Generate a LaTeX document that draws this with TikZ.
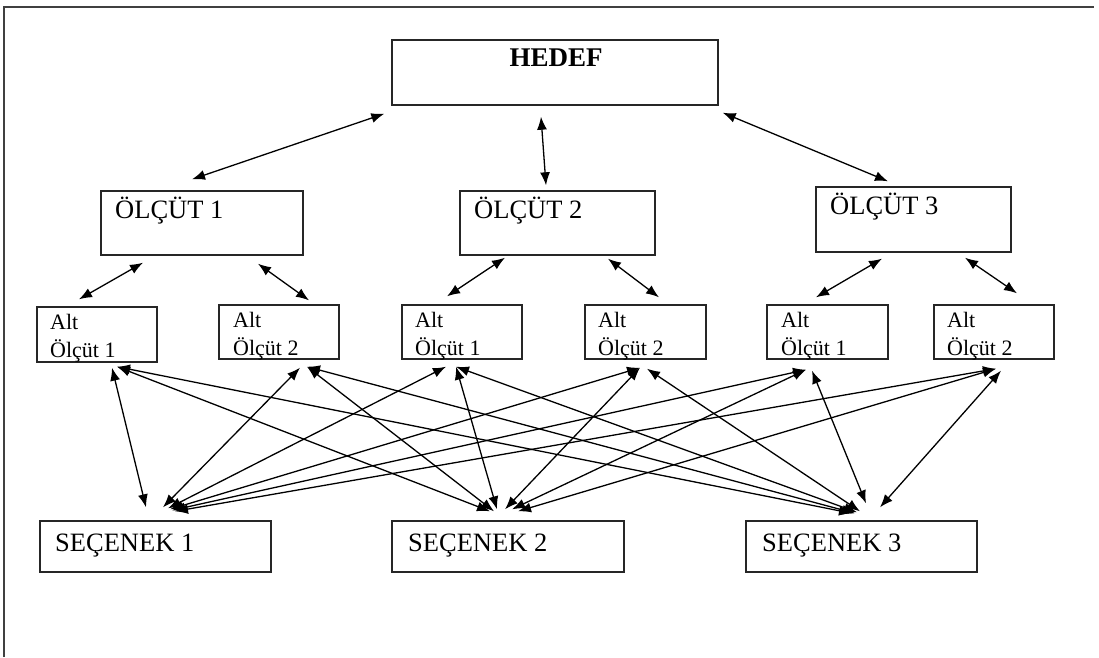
\documentclass[tikz,border=0pt]{standalone}
\usepackage{fontspec}
\setmainfont{Liberation Serif}
\usetikzlibrary{arrows.meta}
\begin{document}
\begin{tikzpicture}[x=1pt,y=-1pt,
  box/.style={draw=black!85, line width=1.4pt, minimum width=#1, inner sep=0pt},
  lbl/.style={anchor=base west, inner sep=0pt, font=\fontsize{26.5}{30}\selectfont},
  sublbl/.style={anchor=base west, inner sep=0pt, font=\fontsize{22}{26}\selectfont},
  conn/.style={line width=1.3pt, {Latex[length=13pt,width=10pt]}-{Latex[length=13pt,width=10pt]}}
]
\useasboundingbox (0,0) rectangle (1099,657);
% outer frame (top and left edges)
\draw[black!75, line width=2.2pt] (4,657) -- (4,7) -- (1094,7);

% boxes
\node[box=326pt, minimum height=65pt] (h)   at (555,72.5) {};
\node[box=202pt, minimum height=64pt] (o1)  at (202,223) {};
\node[box=195pt, minimum height=64pt] (o2)  at (557.5,223) {};
\node[box=195pt, minimum height=65pt] (o3)  at (913.5,219.5) {};
\node[box=120pt, minimum height=55pt] (a1a) at (97,334.5) {};
\node[box=120pt, minimum height=54pt] (a2a) at (279,332) {};
\node[box=120pt, minimum height=54pt] (a1b) at (462,332) {};
\node[box=121pt, minimum height=54pt] (a2b) at (645.5,332) {};
\node[box=121pt, minimum height=54pt] (a1c) at (827.5,332) {};
\node[box=120pt, minimum height=54pt] (a2c) at (994,332) {};
\node[box=231pt, minimum height=51pt] (s1)  at (155.5,546.5) {};
\node[box=232pt, minimum height=51pt] (s2)  at (508,546.5) {};
\node[box=231pt, minimum height=51pt] (s3)  at (861.5,546.5) {};

% texts
\node[anchor=base, inner sep=0pt, font=\fontsize{27}{30}\selectfont\bfseries] (th) at (556,66) {HEDEF};
\node[lbl] (to1) at (115,218) {ÖLÇÜT 1};
\node[lbl] (to2) at (474,218) {ÖLÇÜT 2};
\node[lbl] (to3) at (830,214) {ÖLÇÜT 3};
\node[sublbl] (ta1a) at (50,329) {Alt};
\node[sublbl] (tb1a) at (50,357) {Ölçüt 1};
\node[sublbl] (ta2a) at (233,327) {Alt};
\node[sublbl] (tb2a) at (233,355) {Ölçüt 2};
\node[sublbl] (ta1b) at (415,327) {Alt};
\node[sublbl] (tb1b) at (415,355) {Ölçüt 1};
\node[sublbl] (ta2b) at (598,327) {Alt};
\node[sublbl] (tb2b) at (598,355) {Ölçüt 2};
\node[sublbl] (ta1c) at (781,327) {Alt};
\node[sublbl] (tb1c) at (781,355) {Ölçüt 1};
\node[sublbl] (ta2c) at (947,327) {Alt};
\node[sublbl] (tb2c) at (947,355) {Ölçüt 2};
\node[lbl] (ts1) at (55,551) {SEÇENEK 1};
\node[lbl] (ts2) at (408,551) {SEÇENEK 2};
\node[lbl] (ts3) at (762,551) {SEÇENEK 3};

% HEDEF -- ÖLÇÜT
\draw[conn] ([shift={(-7,8)}]h.south west) -- ([shift={(-10,-11)}]o1.north);
\draw[conn] ([shift={(-14,11)}]h.south) -- ([shift={(-11.5,-5)}]o2.north);
\draw[conn] ([shift={(4,7)}]h.south east) -- ([shift={(-25.5,-5)}]o3.north);

% ÖLÇÜT -- Alt Ölçüt
\draw[conn] ([shift={(-59,7)}]o1.south) -- ([shift={(-18,-7)}]a1a.north);
\draw[conn] ([shift={(56,8)}]o1.south) -- ([shift={(30,-4)}]a2a.north);
\draw[conn] ([shift={(-52.5,2)}]o2.south) -- ([shift={(-15,-8)}]a1b.north);
\draw[conn] ([shift={(50.5,3)}]o2.south) -- ([shift={(13.5,-7)}]a2b.north);
\draw[conn] ([shift={(-31.5,6)}]o3.south) -- ([shift={(-11.5,-7)}]a1c.north);
\draw[conn] ([shift={(51.5,5)}]o3.south) -- ([shift={(23,-11)}]a2c.north);

% Alt Ölçüt -- SEÇENEK 1
\draw[conn] ([shift={(15,5)}]a1a.south)   -- ([shift={(-9.5,-13)}]s1.north);
\draw[conn] ([shift={(21,8)}]a2a.south)   -- ([shift={(7.5,-13)}]s1.north);
\draw[conn] ([shift={(-16,7)}]a1b.south)  -- ([shift={(12.5,-12)}]s1.north);
\draw[conn] ([shift={(-5.5,8)}]a2b.south) -- ([shift={(14.5,-11)}]s1.north);
\draw[conn] ([shift={(-21.5,10)}]a1c.south) -- ([shift={(16.5,-10)}]s1.north);
\draw[conn] ([shift={(2,9)}]a2c.south)    -- ([shift={(19.5,-9)}]s1.north);

% Alt Ölçüt -- SEÇENEK 2
\draw[conn] ([shift={(20,4)}]a1a.south)   -- ([shift={(-18,-9)}]s2.north);
\draw[conn] ([shift={(28,7)}]a2a.south)   -- ([shift={(-14,-9)}]s2.north);
\draw[conn] ([shift={(-6,7)}]a1b.south)   -- ([shift={(-11,-11)}]s2.north);
\draw[conn] ([shift={(-5.5,8)}]a2b.south) -- ([shift={(-3,-11)}]s2.north);
\draw[conn] ([shift={(-21.5,10)}]a1c.south) -- ([shift={(4,-11)}]s2.north);
\draw[conn] ([shift={(2,9)}]a2c.south)    -- ([shift={(10,-9)}]s2.north);

% Alt Ölçüt -- SEÇENEK 3
\draw[conn] ([shift={(20,4)}]a1a.south)   -- ([shift={(-9.5,-7)}]s3.north);
\draw[conn] ([shift={(28,7)}]a2a.south)   -- ([shift={(-6.5,-7)}]s3.north);
\draw[conn] ([shift={(-6,7)}]a1b.south)   -- ([shift={(-4.5,-8)}]s3.north);
\draw[conn] ([shift={(1.5,9)}]a2b.south)  -- ([shift={(-1.5,-9)}]s3.north);
\draw[conn] ([shift={(-15.5,11)}]a1c.south) -- ([shift={(4.5,-17)}]s3.north);
\draw[conn] ([shift={(7,11)}]a2c.south)   -- ([shift={(18.5,-13)}]s3.north);
\end{tikzpicture}
\end{document}
